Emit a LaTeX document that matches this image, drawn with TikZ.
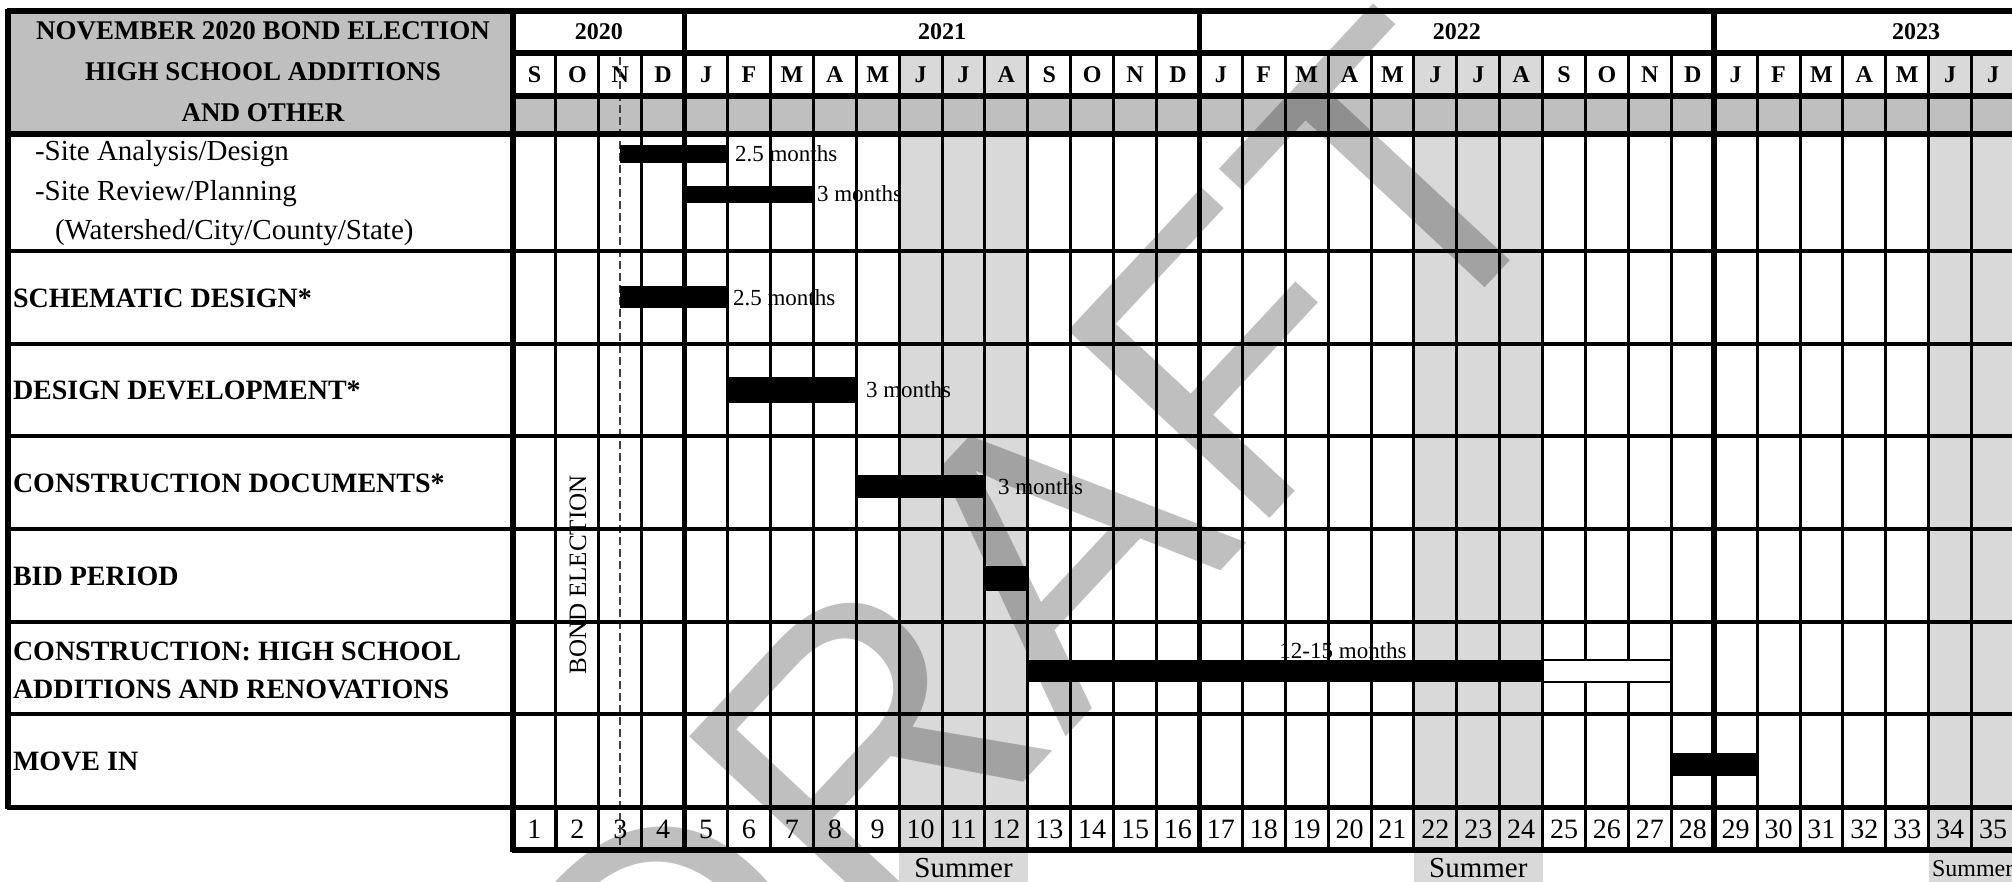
\documentclass[tikz,border=0pt]{standalone}
\usepackage{fontspec}
\setmainfont{Liberation Serif}
\newfontfamily\wmfont{Liberation Sans}
\definecolor{hdrgray}{RGB}{191,191,191}
\definecolor{sumgray}{RGB}{217,217,217}
\begin{document}
\begin{tikzpicture}[x=0.5pt,y=-0.5pt,
  every node/.style={inner sep=0pt,outer sep=0pt},
  hdr/.style={font=\bfseries\fontsize{13.5}{15}\selectfont},
  tasklbl/.style={anchor=west,font=\bfseries\fontsize{14}{15}\selectfont},
  sitelbl/.style={anchor=west,font=\fontsize{14.5}{15}\selectfont},
  yearlbl/.style={font=\bfseries\fontsize{12}{13}\selectfont},
  monlbl/.style={font=\bfseries\fontsize{12}{13}\selectfont},
  numlbl/.style={font=\fontsize{14}{15}\selectfont},
  durlbl/.style={font=\fontsize{11.5}{12}\selectfont},
  sumlbl/.style={font=\fontsize{14.5}{15}\selectfont},
  thinline/.style={line width=1.5pt},
  thickline/.style={line width=2.8pt},
  rowline/.style={line width=2pt},
  barbox/.style={fill=black},
  wmark/.style={font=\wmfont\fontsize{200}{200}\selectfont,text=black,opacity=0.25}
]
\useasboundingbox (0,0) rectangle (2012,882);
\clip (0,0) rectangle (2012,882);
\fill[white] (0,0) rectangle (2012,882);
% header fills
\fill[hdrgray] (8,11) rectangle (513,134);
\fill[hdrgray] (513,96) rectangle (2016,134);
% summer columns
\foreach \c in {10,11,12,22,23,24,34,35}{
  \pgfmathsetmacro\xa{513+(\c-1)*42.9}
  \pgfmathsetmacro\xb{513+\c*42.9}
  \fill[sumgray] (\xa,53) rectangle (\xb,96);
  \fill[sumgray] (\xa,134) rectangle (\xb,850);
}
\fill[sumgray] (899.1,850) rectangle (1027.8,882);
\fill[sumgray] (1413.9,850) rectangle (1542.6,882);
\fill[sumgray] (1928.7,850) rectangle (2016,882);
% header text
\node[hdr] (h1) at (263,31) {NOVEMBER 2020 BOND ELECTION};
\node[hdr] (h2) at (263,72) {HIGH SCHOOL ADDITIONS};
\node[hdr] (h3) at (263,113) {AND OTHER};
% years
\node[yearlbl] (y2020) at (598.8,32) {2020};
\node[yearlbl] (y2021) at (942.0,32) {2021};
\node[yearlbl] (y2022) at (1456.8,32) {2022};
\node[yearlbl] (y2023) at (1916,32) {2023};
% months and numbers
\foreach \m [count=\i] in {S,O,N,D,J,F,M,A,M,J,J,A,S,O,N,D,J,F,M,A,M,J,J,A,S,O,N,D,J,F,M,A,M,J,J}{
  \pgfmathsetmacro\xc{513+(\i-0.5)*42.9}
  \node[monlbl] (m\i) at (\xc,75) {\m};
  \node[numlbl] (n\i) at (\xc,829) {\i};
}
% task labels
\node[sitelbl] (s1) at (35,154) {-Site Analysis/Design};
\node[sitelbl] (s2) at (35,194) {-Site Review/Planning};
\node[sitelbl] (s3) at (55,233) {(Watershed/City/County/State)};
\node[tasklbl] (t1) at (13,298) {SCHEMATIC DESIGN*};
\node[tasklbl] (t2) at (13,390) {DESIGN DEVELOPMENT*};
\node[tasklbl] (t3) at (13,483) {CONSTRUCTION DOCUMENTS*};
\node[tasklbl] (t4) at (13,576) {BID PERIOD};
\node[tasklbl] (t5) at (13,651) {CONSTRUCTION: HIGH SCHOOL};
\node[tasklbl] (t6) at (13,689) {ADDITIONS AND RENOVATIONS};
\node[tasklbl] (t7) at (13,761) {MOVE IN};
% duration labels
\node[durlbl,anchor=west] (d1) at (735,154) {2.5 months};
\node[durlbl,anchor=west] (d2) at (817,194) {3 months};
\node[durlbl,anchor=west] (d3) at (733,298) {2.5 months};
\node[durlbl,anchor=west] (d4) at (866,390) {3 months};
\node[durlbl,anchor=west] (d5) at (998,487) {3 months};
\node[durlbl] (d6) at (1343,651) {12-15 months};
% summer labels
\node[sumlbl] (su1) at (963.5,868) {Summer};
\node[sumlbl] (su2) at (1478.3,868) {Summer};
\node[sumlbl,font=\fontsize{12}{12}\selectfont,anchor=west] (su3) at (1932,869) {Summer};
% bond election
\node[font=\fontsize{12.5}{14}\selectfont,rotate=90] (be) at (578,575) {BOND ELECTION};
% dashed line
\coordinate (dtop) at (620,57);
\coordinate (dbot) at (620,850);
\draw[line width=0.6pt,black!75,dash pattern=on 4pt off 2pt] (dtop) -- (dbot);
% vertical grid lines
\foreach \i in {1,2,3,5,6,7,8,9,10,11,12,13,14,15,17,18,19,20,21,22,23,24,25,26,27,29,30,31,32,33,34}{
  \pgfmathsetmacro\xx{513+\i*42.9}
  \draw[thinline] (\xx,53) -- (\xx,850);
}
\foreach \i in {0,4,16,28}{
  \pgfmathsetmacro\xx{513+\i*42.9}
  \draw[thickline] (\xx,9.5) -- (\xx,851.5);
}
\draw[thickline] (8,9.5) -- (8,808.5);
% horizontal lines
\draw[line width=2.6pt] (6.6,11) -- (2016,11);
\draw[line width=2.6pt] (513,53) -- (2016,53);
\draw[thickline] (513,96) -- (2016,96);
\draw[thickline] (6.6,134) -- (2016,134);
\foreach \yy in {251,344,436,529,622,714}{
  \draw[rowline] (6.6,\yy) -- (2016,\yy);
}
\draw[line width=2.5pt] (6.6,807) -- (2016,807);
\draw[line width=3pt] (511.6,850) -- (2016,850);
\draw[line width=2.4pt] (513,807) rectangle (555.9,850);
% bars
\fill[barbox] (620,145) rectangle (727.5,163);
\fill[barbox] (684.6,186) rectangle (813.3,203);
\fill[barbox] (620,286) rectangle (727.5,308);
\fill[barbox] (727.5,377) rectangle (856.2,403);
\fill[barbox] (856.2,475) rectangle (984.9,498);
\fill[barbox] (984.9,566) rectangle (1027.8,591);
\fill[barbox] (1027.8,660) rectangle (1542.6,682);
\draw[fill=white,line width=1pt] (1542.6,660) rectangle (1671.3,682);
\fill[barbox] (1671.3,753) rectangle (1757.1,776);
% watermark
\node[wmark,anchor=base west,rotate=47] (wm) at (672,1160) {DRAFT};
\end{tikzpicture}
\end{document}
